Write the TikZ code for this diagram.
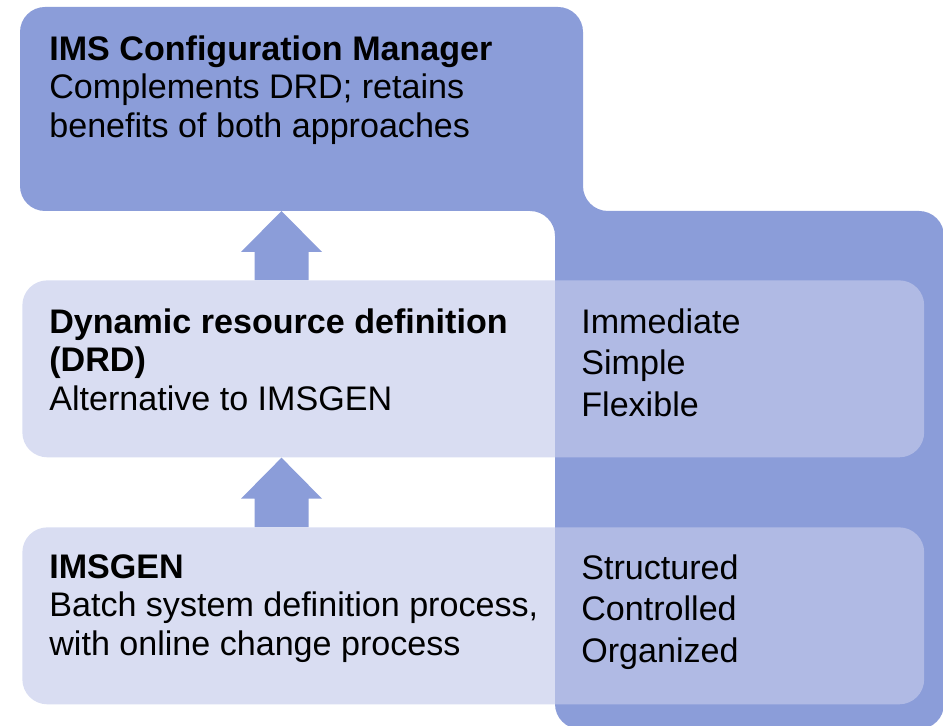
\documentclass[tikz,border=0pt]{standalone}
\usepackage{fontspec}
\setmainfont{Liberation Sans}
\usetikzlibrary{calc}

\definecolor{imsdark}{RGB}{139,157,217}
\definecolor{imslight}{RGB}{196,203,235}

\tikzset{
  lefttext/.style={anchor=north west, inner sep=0pt, align=left,
    font=\fontsize{19.4}{21.9}\selectfont},
  righttext/.style={anchor=north west, inner sep=0pt, align=left,
    font=\fontsize{19.4}{23.8}\selectfont},
  layer/.style={rectangle, rounded corners=0.5cm, fill=imslight,
    fill opacity=0.65, anchor=north west, inner sep=0pt,
    minimum width=18.04cm, minimum height=3.54cm},
  uparrow/.style={fill=imsdark}
}

% block arrow from #1 (foot) up to #2 (tip)
\newcommand{\blockarrow}[2]{%
  \fill[uparrow] ($(#1)+(-27,0)$) -- ($(#2)+(-27,41)$) -- ($(#2)+(-40.5,41)$)
    -- (#2) -- ($(#2)+(40.5,41)$) -- ($(#2)+(27,41)$) -- ($(#1)+(27,0)$) -- cycle;}

\begin{document}
\begin{tikzpicture}[x=0.02cm,y=-0.02cm]
    \useasboundingbox (0,0) rectangle (943,726);

    % backdrop: top box and right column in one piece
    \fill[imsdark, rounded corners=0.5cm] (20,7) -- (583,7) -- (583,211)
      -- (944,211) -- (944,729) -- (555,729) -- (555,211) -- (20,211) -- cycle;

    \node[layer] (drd) at (22,280) {};
    \node[layer] (gen) at (22,527) {};

    \node[lefttext] (cfgtext) at (49,35) {\textbf{IMS Configuration Manager}\\Complements DRD; retains\\benefits of both approaches};
    \node[lefttext] (drdtext) at (49,308) {\textbf{Dynamic resource definition}\\\textbf{(DRD)}\\Alternative to IMSGEN};
    \node[righttext] (drdtraits) at (581,308) {Immediate\\Simple\\Flexible};
    \node[lefttext] (gentext) at (49,554) {\textbf{IMSGEN}\\Batch system definition process,\\with online change process};
    \node[righttext] (gentraits) at (581,554) {Structured\\Controlled\\Organized};

    \coordinate (tip1) at (281.5,211);
    \coordinate (tip2) at (tip1 |- drd.south);
    \blockarrow{tip1 |- drd.north}{tip1}
    \blockarrow{tip1 |- gen.north}{tip2}
  \end{tikzpicture}
\end{document}
